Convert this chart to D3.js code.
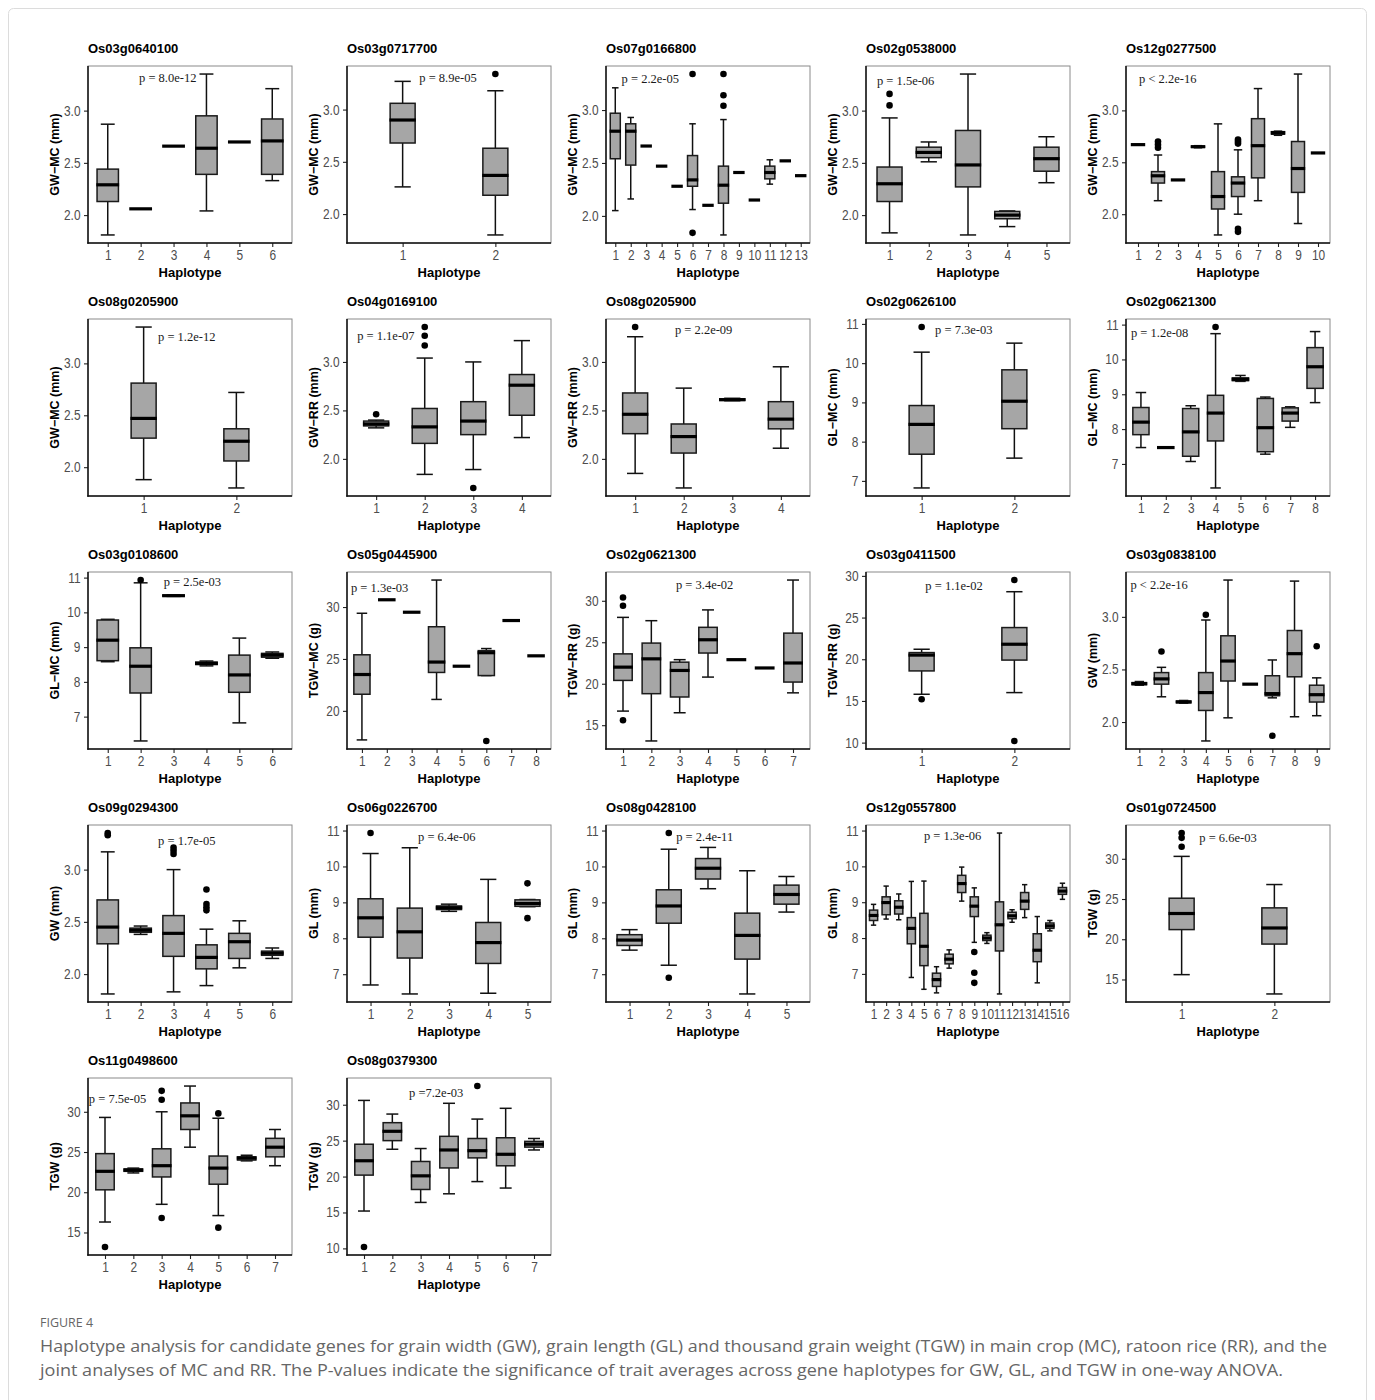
<!DOCTYPE html>
<html>
<head>
<meta charset="utf-8">
<script src="https://cdn.jsdelivr.net/npm/d3@7"></script>
<style>
  body { margin: 0; background: #fff; }
  svg { display: block; }
</style>
</head>
<body>
<svg id="fig" width="1375" height="1400"></svg>
<script>
// ---- Panels: gene, y-axis title, ANOVA p-value text ----
const genes = [
  "Os03g0640100", "Os03g0717700", "Os07g0166800", "Os02g0538000", "Os12g0277500",
  "Os08g0205900", "Os04g0169100", "Os08g0205900", "Os02g0626100", "Os02g0621300",
  "Os03g0108600", "Os05g0445900", "Os02g0621300", "Os03g0411500", "Os03g0838100",
  "Os09g0294300", "Os06g0226700", "Os08g0428100", "Os12g0557800", "Os01g0724500",
  "Os11g0498600", "Os08g0379300"
];

const yTitles = [
  "GW−MC (mm)", "GW−MC (mm)", "GW−MC (mm)", "GW−MC (mm)", "GW−MC (mm)",
  "GW−MC (mm)", "GW−RR (mm)", "GW−RR (mm)", "GL−MC (mm)", "GL−MC (mm)",
  "GL−MC (mm)", "TGW−MC (g)", "TGW−RR (g)", "TGW−RR (g)", "GW (mm)",
  "GW (mm)", "GL (mm)", "GL (mm)", "GL (mm)", "TGW (g)",
  "TGW (g)", "TGW (g)"
];

const pLabels = [
  "p = 8.0e-12", "p = 8.9e-05", "p = 2.2e-05", "p = 1.5e-06", "p < 2.2e-16",
  "p = 1.2e-12", "p = 1.1e-07", "p = 2.2e-09", "p = 7.3e-03", "p = 1.2e-08",
  "p = 2.5e-03", "p = 1.3e-03", "p = 3.4e-02", "p = 1.1e-02", "p < 2.2e-16",
  "p = 1.7e-05", "p = 6.4e-06", "p = 2.4e-11", "p = 1.3e-06", "p = 6.6e-03",
  "p = 7.5e-05", "p =7.2e-03"
];

// p-value label anchor in data units: [haplotype position (left edge), trait value]
const pAnchors = [
  [1.95, 3.31], [1.18, 3.30], [1.41, 3.29], [0.68, 3.28], [1.05, 3.30],
  [1.155, 3.25], [0.61, 3.27], [1.82, 3.33], [1.145, 10.85], [0.60, 10.76],
  [2.70, 10.88], [0.56, 31.8], [2.87, 31.9], [1.04, 28.8], [0.60, 3.30],
  [2.53, 3.27], [2.21, 10.83], [2.19, 10.83], [5.0, 10.84], [1.19, 32.6],
  [0.43, 31.6], [2.59, 31.6]
];

// y tick spacing per panel (trait units)
const yTickSteps = [
  0.5, 0.5, 0.5, 0.5, 0.5,
  0.5, 0.5, 0.5, 1, 1,
  1, 5, 5, 5, 0.5,
  0.5, 1, 1, 1, 5,
  5, 5
];

// ---- Box statistics per haplotype: [lower whisker, Q1, median, Q3, upper whisker] ----
const boxStats = [
  // Os03g0640100 GW-MC
  [[1.81, 2.13, 2.29, 2.44, 2.87], [2.06, 2.06, 2.06, 2.06, 2.06], [2.66, 2.66, 2.66, 2.66, 2.66],
   [2.04, 2.39, 2.64, 2.95, 3.35], [2.70, 2.70, 2.70, 2.70, 2.70], [2.33, 2.39, 2.71, 2.92, 3.21]],
  // Os03g0717700 GW-MC
  [[2.26, 2.68, 2.90, 3.06, 3.27], [1.80, 2.18, 2.37, 2.63, 3.18]],
  // Os07g0166800 GW-MC
  [[2.05, 2.54, 2.80, 2.97, 3.21], [2.16, 2.48, 2.80, 2.87, 2.93], [2.66, 2.66, 2.66, 2.66, 2.66],
   [2.47, 2.47, 2.47, 2.47, 2.47], [2.28, 2.28, 2.28, 2.28, 2.28], [2.06, 2.28, 2.34, 2.57, 2.87],
   [2.10, 2.10, 2.10, 2.10, 2.10], [1.82, 2.12, 2.29, 2.47, 2.91], [2.41, 2.41, 2.41, 2.41, 2.41],
   [2.15, 2.15, 2.15, 2.15, 2.15], [2.30, 2.35, 2.41, 2.47, 2.53], [2.52, 2.52, 2.52, 2.52, 2.52],
   [2.38, 2.38, 2.38, 2.38, 2.38]],
  // Os02g0538000 GW-MC
  [[1.83, 2.13, 2.30, 2.46, 2.93], [2.51, 2.55, 2.60, 2.65, 2.70], [1.81, 2.27, 2.48, 2.81, 3.35],
   [1.89, 1.965, 2.00, 2.035, 2.04], [2.31, 2.42, 2.54, 2.65, 2.75]],
  // Os12g0277500 GW-MC
  [[2.67, 2.67, 2.67, 2.67, 2.67], [2.13, 2.30, 2.37, 2.41, 2.57], [2.33, 2.33, 2.33, 2.33, 2.33],
   [2.64, 2.645, 2.65, 2.655, 2.66], [1.80, 2.05, 2.17, 2.41, 2.87], [2.00, 2.17, 2.30, 2.36, 2.62],
   [2.13, 2.35, 2.66, 2.92, 3.21], [2.76, 2.77, 2.785, 2.795, 2.80], [1.91, 2.21, 2.44, 2.70, 3.35],
   [2.59, 2.59, 2.59, 2.59, 2.59]],
  // Os08g0205900 GW-MC
  [[1.88, 2.28, 2.47, 2.81, 3.35], [1.80, 2.06, 2.25, 2.37, 2.72]],
  // Os04g0169100 GW-RR
  [[2.32, 2.34, 2.36, 2.39, 2.40], [1.84, 2.16, 2.33, 2.52, 3.04], [1.89, 2.25, 2.39, 2.59, 3.00],
   [2.22, 2.45, 2.76, 2.87, 3.22]],
  // Os08g0205900 GW-RR
  [[1.85, 2.26, 2.46, 2.68, 3.26], [1.70, 2.06, 2.23, 2.36, 2.73], [2.60, 2.605, 2.61, 2.62, 2.625],
   [2.11, 2.31, 2.41, 2.59, 2.95]],
  // Os02g0626100 GL-MC
  [[6.82, 7.68, 8.44, 8.92, 10.28], [7.58, 8.33, 9.03, 9.83, 10.51]],
  // Os02g0621300 GL-MC
  [[7.47, 7.84, 8.20, 8.62, 9.05], [7.47, 7.47, 7.47, 7.47, 7.47], [7.07, 7.22, 7.92, 8.59, 8.67],
   [6.31, 7.66, 8.46, 8.97, 10.74], [9.37, 9.39, 9.43, 9.47, 9.54], [7.28, 7.35, 8.04, 8.88, 8.92],
   [8.05, 8.23, 8.46, 8.61, 8.64], [8.76, 9.17, 9.79, 10.34, 10.80]],
  // Os03g0108600 GL-MC
  [[8.58, 8.61, 9.20, 9.78, 9.80], [6.30, 7.68, 8.45, 8.98, 10.85], [10.46, 10.47, 10.48, 10.49, 10.50],
   [8.46, 8.50, 8.53, 8.57, 8.60], [6.82, 7.70, 8.20, 8.77, 9.26], [8.68, 8.71, 8.77, 8.82, 8.86]],
  // Os05g0445900 TGW-MC
  [[17.2, 21.6, 23.5, 25.4, 29.4], [30.7, 30.7, 30.7, 30.7, 30.7], [29.5, 29.5, 29.5, 29.5, 29.5],
   [21.1, 23.7, 24.7, 28.1, 32.6], [24.3, 24.3, 24.3, 24.3, 24.3], [23.4, 23.4, 25.6, 25.8, 26.0],
   [28.7, 28.7, 28.7, 28.7, 28.7], [25.3, 25.3, 25.3, 25.3, 25.3]],
  // Os02g0621300 TGW-RR
  [[16.7, 20.4, 22.0, 23.6, 28.0], [13.1, 18.8, 23.0, 24.9, 27.6], [16.5, 18.4, 21.6, 22.6, 22.9],
   [20.8, 23.7, 25.3, 26.8, 28.9], [22.9, 22.9, 22.9, 22.9, 22.9], [21.9, 21.9, 21.9, 21.9, 21.9],
   [18.9, 20.2, 22.5, 26.1, 32.5]],
  // Os03g0411500 TGW-RR
  [[15.8, 18.6, 20.5, 20.8, 21.2], [16.0, 19.9, 21.8, 23.8, 28.1]],
  // Os03g0838100 GW
  [[2.35, 2.355, 2.365, 2.375, 2.385], [2.24, 2.36, 2.41, 2.47, 2.52], [2.18, 2.185, 2.19, 2.20, 2.205],
   [1.82, 2.11, 2.28, 2.47, 2.97], [2.04, 2.39, 2.58, 2.82, 3.35], [2.36, 2.36, 2.36, 2.36, 2.36],
   [2.23, 2.25, 2.27, 2.44, 2.59], [2.05, 2.43, 2.65, 2.87, 3.34], [2.06, 2.19, 2.26, 2.35, 2.42]],
  // Os09g0294300 GW
  [[1.81, 2.29, 2.45, 2.71, 3.17], [2.38, 2.40, 2.42, 2.44, 2.46], [1.83, 2.17, 2.39, 2.56, 3.00],
   [1.89, 2.05, 2.16, 2.28, 2.43], [2.06, 2.15, 2.31, 2.39, 2.51], [2.15, 2.18, 2.20, 2.22, 2.25]],
  // Os06g0226700 GL
  [[6.70, 8.03, 8.57, 9.10, 10.36], [6.45, 7.45, 8.18, 8.84, 10.52], [8.75, 8.80, 8.85, 8.90, 8.95],
   [6.47, 7.30, 7.88, 8.44, 9.64], [8.88, 8.89, 8.97, 9.07, 9.08]],
  // Os08g0428100 GL
  [[7.67, 7.80, 7.95, 8.10, 8.24], [7.25, 8.42, 8.90, 9.35, 10.48], [9.38, 9.65, 9.95, 10.22, 10.53],
   [6.45, 7.42, 8.08, 8.70, 9.88], [8.73, 8.95, 9.22, 9.48, 9.72]],
  // Os12g0557800 GL
  [[8.36, 8.49, 8.63, 8.78, 8.94], [8.53, 8.65, 8.99, 9.15, 9.45], [8.51, 8.67, 8.86, 9.04, 9.23],
   [6.90, 7.84, 8.27, 8.57, 9.58], [6.57, 7.23, 7.77, 8.69, 9.59], [6.47, 6.65, 6.84, 7.02, 7.20],
   [7.16, 7.28, 7.41, 7.55, 7.67], [9.03, 9.27, 9.52, 9.75, 9.98], [7.88, 8.60, 8.89, 9.15, 9.40],
   [7.85, 7.93, 8.00, 8.08, 8.15], [6.44, 7.64, 8.37, 9.01, 10.93], [8.44, 8.54, 8.62, 8.72, 8.79],
   [8.57, 8.80, 9.03, 9.27, 9.49], [6.75, 7.34, 7.66, 8.12, 8.60], [8.20, 8.27, 8.34, 8.42, 8.49],
   [9.08, 9.22, 9.31, 9.41, 9.53]],
  // Os01g0724500 TGW
  [[15.6, 21.2, 23.2, 25.1, 30.3], [13.2, 19.4, 21.4, 23.9, 26.8]],
  // Os11g0498600 TGW
  [[16.3, 20.3, 22.6, 24.8, 29.3], [22.4, 22.6, 22.75, 22.9, 23.0], [18.5, 21.9, 23.3, 25.4, 30.0],
   [25.6, 27.8, 29.5, 31.1, 33.2], [17.1, 21.0, 23.0, 24.5, 29.2], [23.9, 24.0, 24.25, 24.4, 24.6],
   [23.3, 24.4, 25.6, 26.7, 27.8]],
  // Os08g0379300 TGW
  [[15.2, 20.2, 22.2, 24.5, 30.6], [23.8, 25.0, 26.3, 27.5, 28.7], [16.4, 18.2, 20.1, 22.1, 23.9],
   [17.6, 21.2, 23.7, 25.6, 30.2], [19.3, 22.6, 23.6, 25.3, 28.0], [18.4, 21.5, 23.1, 25.4, 29.5],
   [23.7, 24.1, 24.5, 24.9, 25.3]]
];

// ---- Outlying observations per panel: [haplotype, value] ----
const outliers = [
  [],
  [[2, 3.34]],
  [[6, 3.34], [6, 1.84], [8, 3.34], [8, 3.14], [8, 3.04]],
  [[1, 3.16], [1, 3.05]],
  [[2, 2.70], [2, 2.67], [2, 2.64], [6, 2.72], [6, 2.70], [6, 2.68], [6, 1.86], [6, 1.83]],
  [],
  [[1, 2.46], [2, 3.36], [2, 3.27], [2, 3.17], [3, 1.70]],
  [[1, 3.36]],
  [[1, 10.92]],
  [[4, 10.93]],
  [[2, 10.93]],
  [[6, 17.1]],
  [[1, 30.4], [1, 29.4], [1, 15.6]],
  [[1, 15.2], [2, 29.5], [2, 10.2]],
  [[2, 2.67], [4, 3.02], [7, 1.87], [9, 2.72]],
  [[1, 3.35], [1, 3.33], [3, 3.21], [3, 3.18], [3, 3.15], [4, 2.81], [4, 2.67], [4, 2.64], [4, 2.61]],
  [[1, 10.93], [5, 9.53], [5, 8.56]],
  [[2, 10.93], [2, 6.90]],
  [[9, 7.61], [9, 7.03], [9, 6.75]],
  [[1, 33.2], [1, 32.6], [1, 31.5]],
  [[1, 13.2], [3, 32.6], [3, 31.5], [3, 16.8], [5, 29.8], [5, 15.6]],
  [[1, 10.2], [5, 32.6]]
];

const captionTitle = "FIGURE 4";
const captionLines = [
  "Haplotype analysis for candidate genes for grain width (GW), grain length (GL) and thousand grain weight (TGW) in main crop (MC), ratoon rice (RR), and the",
  "joint analyses of MC and RR. The P-values indicate the significance of trait averages across gene haplotypes for GW, GL, and TGW in one-way ANOVA."
];

// ---- Layout ----
const colLeft = [88, 347, 606, 866, 1126];
const rowTop = [66, 319, 572, 825, 1078];
const PW = 204, PH = 177;
const sans = "'Liberation Sans', Arial, Helvetica, sans-serif";
const serif = "'Liberation Serif', 'Times New Roman', serif";
const narrow = 0.85;   // horizontal squeeze of the tick-label face

const svg = d3.select("#fig");

svg.append("rect")
  .attr("x", 8.5).attr("y", 8.5)
  .attr("width", 1358).attr("height", 1420)
  .attr("rx", 5)
  .attr("fill", "#fff")
  .attr("stroke", "#dcdcdc");

genes.forEach((gene, i) => {
  const left = colLeft[i % 5];
  const top = rowTop[Math.floor(i / 5)];
  const stats = boxStats[i];
  const outs = outliers[i];
  const n = stats.length;

  const x = d3.scaleLinear().domain([0.4, n + 0.6]).range([left, left + PW]);
  const values = stats.flat().concat(outs.map(o => o[1]));
  const [lo, hi] = d3.extent(values);
  const pad = (hi - lo) * 0.05;
  const y = d3.scaleLinear().domain([lo - pad, hi + pad]).range([top + PH, top]);

  const step = yTickSteps[i];
  const tickVals = d3.range(Math.ceil((lo - pad) / step) * step, hi + pad + 1e-9, step)
    .map(v => +v.toFixed(3));
  const fmt = step < 1 ? d3.format(".1f") : d3.format("d");

  const g = svg.append("g").attr("class", "panel");

  // panel frame
  g.append("rect")
    .attr("x", left).attr("y", top)
    .attr("width", PW).attr("height", PH)
    .attr("fill", "#fff")
    .attr("stroke", "#8a8a8a")
    .attr("stroke-width", 1);

  // y axis
  const yAxis = g.append("g")
    .attr("transform", `translate(${left},0)`)
    .call(d3.axisLeft(y).tickValues(tickVals).tickFormat(fmt).tickSize(4).tickPadding(3));
  yAxis.select(".domain").remove();
  yAxis.selectAll(".tick line").attr("stroke", "#222").attr("stroke-width", 1.1);
  yAxis.selectAll(".tick text")
    .attr("fill", "#4d4d4d")
    .attr("x", -7.5 / narrow)
    .attr("transform", `scale(${narrow},1)`)
    .style("font-family", sans)
    .style("font-size", "14px");

  // x axis
  const xAxis = g.append("g")
    .attr("transform", `translate(0,${top + PH})`)
    .call(d3.axisBottom(x).tickValues(d3.range(1, n + 1)).tickFormat(d3.format("d")).tickSize(4).tickPadding(3));
  xAxis.select(".domain").remove();
  xAxis.selectAll(".tick line").attr("stroke", "#222").attr("stroke-width", 1.1);
  xAxis.selectAll(".tick text")
    .attr("fill", "#4d4d4d")
    .attr("transform", `scale(${narrow},1)`)
    .style("font-family", sans)
    .style("font-size", "14px");

  // axis lines (left and bottom)
  g.append("line")
    .attr("x1", left).attr("x2", left)
    .attr("y1", top).attr("y2", top + PH + 0.7)
    .attr("stroke", "#111").attr("stroke-width", 1.5);
  g.append("line")
    .attr("x1", left - 0.7).attr("x2", left + PW)
    .attr("y1", top + PH).attr("y2", top + PH)
    .attr("stroke", "#111").attr("stroke-width", 1.5);

  // boxes
  const unit = x(2) - x(1);
  const bw = Math.min(unit * 0.65, 25);
  const cap = bw * 0.65;

  const hap = g.selectAll("g.hap")
    .data(stats)
    .join("g")
    .attr("class", "hap");

  hap.append("line")
    .attr("x1", (d, k) => x(k + 1)).attr("x2", (d, k) => x(k + 1))
    .attr("y1", d => y(d[0])).attr("y2", d => y(d[4]))
    .attr("stroke", "#111").attr("stroke-width", 1.5);
  hap.append("line")
    .attr("x1", (d, k) => x(k + 1) - cap / 2).attr("x2", (d, k) => x(k + 1) + cap / 2)
    .attr("y1", d => y(d[0])).attr("y2", d => y(d[0]))
    .attr("stroke", "#111").attr("stroke-width", 1.5);
  hap.append("line")
    .attr("x1", (d, k) => x(k + 1) - cap / 2).attr("x2", (d, k) => x(k + 1) + cap / 2)
    .attr("y1", d => y(d[4])).attr("y2", d => y(d[4]))
    .attr("stroke", "#111").attr("stroke-width", 1.5);
  hap.append("rect")
    .attr("x", (d, k) => x(k + 1) - bw / 2)
    .attr("width", bw)
    .attr("y", d => y(d[3]))
    .attr("height", d => Math.max(0, y(d[1]) - y(d[3])))
    .attr("fill", "#a6a6a6")
    .attr("stroke", "#1a1a1a")
    .attr("stroke-width", 1.5);
  hap.append("line")
    .attr("x1", (d, k) => x(k + 1) - bw / 2 - 0.7).attr("x2", (d, k) => x(k + 1) + bw / 2 + 0.7)
    .attr("y1", d => y(d[2])).attr("y2", d => y(d[2]))
    .attr("stroke", "#000").attr("stroke-width", 3.2);

  // outliers
  g.selectAll("circle.out")
    .data(outs)
    .join("circle")
    .attr("class", "out")
    .attr("cx", d => x(d[0]))
    .attr("cy", d => y(d[1]))
    .attr("r", 3.3)
    .attr("fill", "#000");

  // p-value
  g.append("text")
    .attr("x", x(pAnchors[i][0]))
    .attr("y", y(pAnchors[i][1]))
    .attr("dominant-baseline", "central")
    .style("font-family", serif)
    .style("font-size", "12.5px")
    .attr("fill", "#1a1a1a")
    .text(pLabels[i]);

  // titles
  g.append("text")
    .attr("x", left).attr("y", top - 13)
    .style("font-family", sans)
    .style("font-size", "13px")
    .style("font-weight", "bold")
    .attr("fill", "#000")
    .text(gene);

  g.append("text")
    .attr("x", left + PW / 2).attr("y", top + PH + 34)
    .attr("text-anchor", "middle")
    .style("font-family", sans)
    .style("font-size", "13px")
    .style("font-weight", "bold")
    .attr("fill", "#000")
    .text("Haplotype");

  g.append("text")
    .attr("transform", `translate(${left - 29},${top + PH / 2}) rotate(-90)`)
    .attr("text-anchor", "middle")
    .style("font-family", sans)
    .style("font-size", "12.5px")
    .style("font-weight", "bold")
    .attr("fill", "#000")
    .text(yTitles[i]);
});

// caption
svg.append("text")
  .attr("x", 40).attr("y", 1327)
  .style("font-family", "'Open Sans', sans-serif")
  .style("font-size", "13px")
  .attr("fill", "#666")
  .attr("textLength", 53)
  .attr("lengthAdjust", "spacingAndGlyphs")
  .text(captionTitle);

const captionEnds = [1327, 1283];
captionLines.forEach((line, k) => {
  svg.append("text")
    .attr("x", 40).attr("y", 1352 + k * 24)
    .style("font-family", "'Open Sans', sans-serif")
    .style("font-size", "17px")
    .attr("fill", "#666")
    .attr("textLength", captionEnds[k] - 40)
    .attr("lengthAdjust", "spacingAndGlyphs")
    .text(line);
});
</script>
</body>
</html>
